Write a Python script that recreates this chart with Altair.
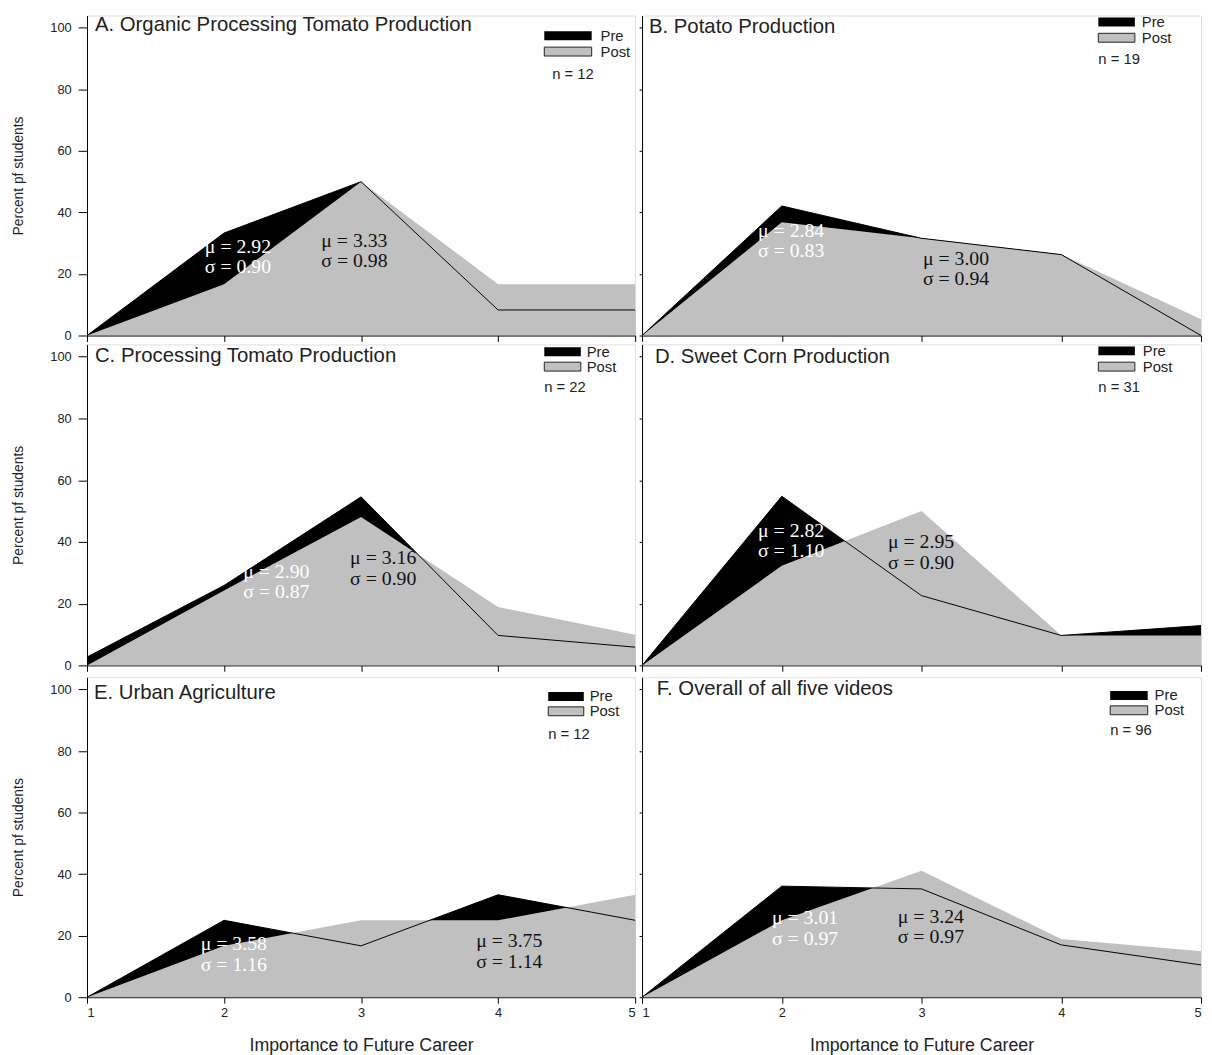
import altair as alt
import pandas as pd

# ---------------- data ----------------
levels = [1, 2, 3, 4, 5]
panel_titles = [
    "A. Organic Processing Tomato Production",
    "B. Potato Production",
    "C. Processing Tomato Production",
    "D. Sweet Corn Production",
    "E. Urban Agriculture",
    "F. Overall of all five videos",
]
n_values = [12, 19, 22, 31, 12, 96]
pre_values = [
    [0, 33.3, 50.0, 8.3, 8.3],
    [0, 42.1, 31.6, 26.3, 0],
    [2.7, 25.9, 54.6, 9.7, 5.9],
    [0, 54.8, 22.6, 9.7, 12.9],
    [0, 25.0, 16.7, 33.3, 25.0],
    [0, 36.1, 35.2, 17.0, 10.5],
]
post_values = [
    [0, 16.7, 50.0, 16.7, 16.7],
    [0, 36.8, 31.6, 26.3, 5.3],
    [0, 24.3, 48.1, 18.9, 9.9],
    [0, 32.3, 50.0, 9.7, 9.7],
    [0, 16.7, 25.0, 25.0, 33.3],
    [0, 25.0, 41.1, 18.9, 14.9],
]
pre_mean = ["2.92", "2.84", "2.90", "2.82", "3.58", "3.01"]
pre_sd = ["0.90", "0.83", "0.87", "1.10", "1.16", "0.97"]
post_mean = ["3.33", "3.00", "3.16", "2.95", "3.75", "3.24"]
post_sd = ["0.98", "0.94", "0.90", "0.90", "1.14", "0.97"]

# ---------------- layout (annotation placement) ----------------
# stats text anchor (data coords): (x, y line1, y line2)
pre_txt_pos = [(1.86, 28.9, 22.2), (1.83, 34.1, 27.3), (2.14, 30.1, 23.6),
               (1.83, 43.4, 36.9), (1.83, 17.3, 10.5), (1.93, 25.7, 18.9)]
post_txt_pos = [(2.71, 30.8, 24.1), (3.01, 24.7, 18.3), (2.92, 34.9, 28.1),
                (2.76, 40.1, 33.3), (3.84, 18.3, 11.5), (2.83, 26.0, 19.6)]
# legend pixel layout relative to plot: rect x0, x1, pre y0, post y0, label x, n x, n y
legend_pos = [
    (463, 511, 16, 32, 520, 471, 59),
    (462, 499, 2, 18, 506, 462, 44),
    (463, 500, 3, 18, 506, 463, 43),
    (462, 499, 2, 18, 507, 462, 43),
    (467, 503, 15, 30, 509, 467, 58),
    (474, 512, 14, 29, 519, 474, 54),
]
title_pos = [(8, 10), (7, 12), (8, 12), (13, 13), (7, 16), (15, 12)]
widths = [555, 566]
heights = [324, 325, 324]

SANS = "Liberation Sans"
SERIF = "Liberation Serif"
GRAY = "#c0c0c0"


def panel(i):
    col = i % 2
    row = i // 2
    left = col == 0
    bottom = row == 2
    w = widths[col]
    h = heights[row]

    df = pd.DataFrame({
        "level": levels * 2,
        "pct": pre_values[i] + post_values[i],
        "series": ["Pre"] * 5 + ["Post"] * 5,
    })

    if bottom:
        x_axis = alt.Axis(
            values=levels, format="d", title="Importance to Future Career",
            tickSize=6, tickColor="black", domainColor="black",
            labelFont=SANS, labelFontSize=13, labelColor="#222",
            labelPadding=4, titleFont=SANS, titleFontSize=18,
            titleFontWeight="normal", titleColor="#222", titlePadding=17,
            grid=False,
        )
    else:
        x_axis = alt.Axis(
            values=levels, labels=False, title=None,
            tickSize=6, tickColor="black", domainColor="black", grid=False,
        )
    if left:
        y_axis = alt.Axis(
            values=[0, 20, 40, 60, 80, 100], title="Percent pf students",
            tickSize=9, tickColor="black", domainColor="black",
            labelFont=SANS, labelFontSize=13, labelColor="#222",
            labelPadding=7, titleFont=SANS, titleFontSize=14,
            titleFontWeight="normal", titleColor="#222", titlePadding=25,
            grid=False,
        )
    else:
        y_axis = alt.Axis(
            values=[0, 20, 40, 60, 80, 100], title=None, labels=False,
            tickSize=3, tickColor="black", domainColor="black", grid=False,
        )

    xenc = alt.X("level:Q", scale=alt.Scale(domain=[1, 5], nice=False, zero=False), axis=x_axis)
    yenc = alt.Y("pct:Q", scale=alt.Scale(domain=[0, 104], nice=False), axis=y_axis)

    base = alt.Chart(df)
    pre_area = base.transform_filter(alt.datum.series == "Pre").mark_area(
        color="black", opacity=1).encode(x=xenc, y=yenc)
    post_area = base.transform_filter(alt.datum.series == "Post").mark_area(
        color=GRAY, opacity=1).encode(x="level:Q", y="pct:Q")
    pre_line = base.transform_filter(alt.datum.series == "Pre").mark_line(
        color="black", strokeWidth=1).encode(x="level:Q", y="pct:Q")

    px, py1, py2 = pre_txt_pos[i]
    qx, qy1, qy2 = post_txt_pos[i]
    tdf = pd.DataFrame({
        "level": [px, px, qx, qx],
        "pct": [py1, py2, qy1, qy2],
        "txt": ["\u03bc = " + pre_mean[i], "\u03c3 = " + pre_sd[i],
                "\u03bc = " + post_mean[i], "\u03c3 = " + post_sd[i]],
        "col": ["white", "white", "#111", "#111"],
    })
    stats = alt.Chart(tdf).mark_text(
        align="left", baseline="middle", font=SERIF, fontSize=20
    ).encode(x="level:Q", y="pct:Q", text="txt:N", color=alt.Color("col:N", scale=None))

    tx, ty = title_pos[i]
    title = alt.Chart(pd.DataFrame({"t": [panel_titles[i]]})).mark_text(
        align="left", baseline="middle", font=SANS, fontSize=20.6, color="#222"
    ).encode(text="t:N", x=alt.value(tx), y=alt.value(ty))

    rx0, rx1, pre_y, post_y, lab_x, n_x, n_y = legend_pos[i]
    leg_df = pd.DataFrame({"s": ["Pre", "Post"]})
    rect_pre = alt.Chart(leg_df).transform_filter(alt.datum.s == "Pre").mark_rect(
        color="black").encode(x=alt.value(rx0), x2=alt.value(rx1),
                              y=alt.value(pre_y), y2=alt.value(pre_y + 9))
    rect_post = alt.Chart(leg_df).transform_filter(alt.datum.s == "Post").mark_rect(
        fill=GRAY, stroke="#222", strokeWidth=1).encode(
        x=alt.value(rx0), x2=alt.value(rx1),
        y=alt.value(post_y), y2=alt.value(post_y + 9))
    lab_pre = alt.Chart(leg_df).transform_filter(alt.datum.s == "Pre").mark_text(
        align="left", baseline="middle", font=SANS, fontSize=15, color="#222"
    ).encode(text="s:N", x=alt.value(lab_x), y=alt.value(pre_y + 4.5))
    lab_post = alt.Chart(leg_df).transform_filter(alt.datum.s == "Post").mark_text(
        align="left", baseline="middle", font=SANS, fontSize=15, color="#222"
    ).encode(text="s:N", x=alt.value(lab_x), y=alt.value(post_y + 4.5))
    ntext = alt.Chart(pd.DataFrame({"n": ["n = %d" % n_values[i]]})).mark_text(
        align="left", baseline="middle", font=SANS, fontSize=15, color="#222"
    ).encode(text="n:N", x=alt.value(n_x), y=alt.value(n_y))

    return alt.layer(
        pre_area, post_area, pre_line, stats, title,
        rect_pre, rect_post, lab_pre, lab_post, ntext
    ).properties(width=w, height=h)


panels = [panel(i) for i in range(6)]
row1 = alt.hconcat(panels[0], panels[1], spacing=0)
row2 = alt.hconcat(panels[2], panels[3], spacing=0)
row3 = alt.hconcat(panels[4], panels[5], spacing=0)
top = alt.vconcat(row1, row2, spacing=0)
chart = alt.vconcat(top, row3, spacing=3).properties(
    padding={"left": 2, "top": 0, "right": 0, "bottom": 2}
).configure_view(stroke="black", strokeWidth=1).configure(background="white")

chart.save("out.html", embed_options={"renderer": "svg", "actions": False})
